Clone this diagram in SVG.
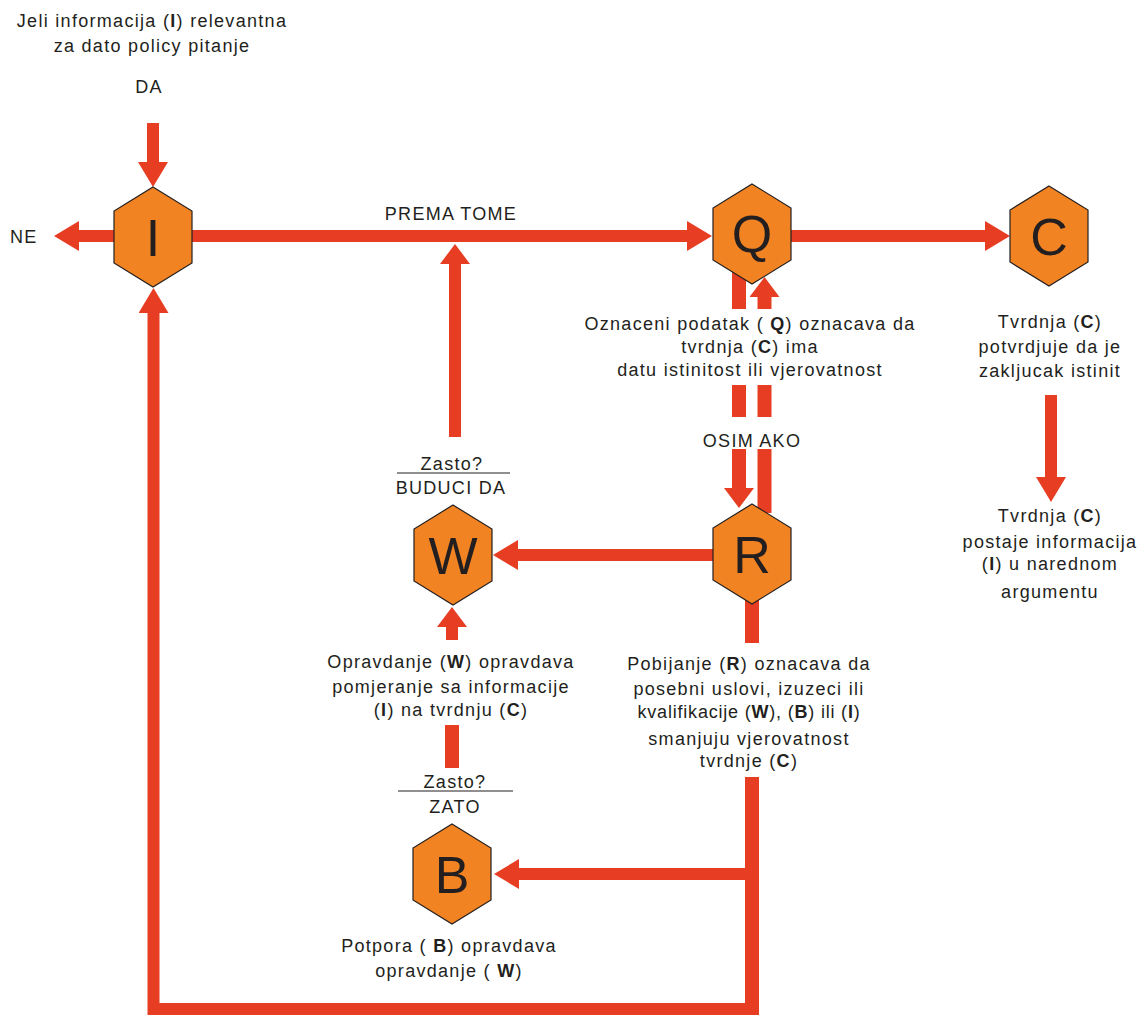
<svg xmlns="http://www.w3.org/2000/svg" width="1144" height="1016" viewBox="0 0 1144 1016">
<style>
.hex{fill:#F28322;stroke:#231f20;stroke-width:1.2}
.hl{font-family:"Liberation Sans",Arial,sans-serif;font-size:52px;fill:#231f20;text-anchor:middle}
.t{font-family:"Liberation Sans",Arial,sans-serif;font-size:18px;fill:#231f20;text-anchor:middle;letter-spacing:1.3px}
.b{font-weight:bold}
.c{fill:none;stroke:#E73E23;stroke-width:12;stroke-linejoin:miter}
.w{stroke-width:14}
.ah{fill:#E73E23}
.rule{stroke:#231f20;stroke-width:1.2}
</style>
<defs>
<polygon id="hex" points="0,-50 39,-26 39,26 0,50 -39,26 -39,-26"/>
<marker id="arr" viewBox="0 0 25 30" markerWidth="25" markerHeight="30" refX="1" refY="15" orient="auto" markerUnits="userSpaceOnUse"><path class="ah" d="M0,0 L25,15 L0,30 Z"/></marker>
<marker id="arrs" viewBox="0 0 20 30" markerWidth="20" markerHeight="30" refX="1" refY="15" orient="auto" markerUnits="userSpaceOnUse"><path class="ah" d="M0,0 L20,15 L0,30 Z"/></marker>
</defs>
<g id="connectors">
<path class="c" d="M153,123 V163" marker-end="url(#arr)"/>
<path class="c" d="M114,236 H78" marker-end="url(#arr)"/>
<path class="c" d="M192,236 H688" marker-end="url(#arr)"/>
<path class="c" d="M791,236 H986" marker-end="url(#arr)"/>
<path class="c" d="M455,437 V263" marker-end="url(#arrs)"/>
<path class="c" d="M1051,395 V478" marker-end="url(#arr)"/>
<path class="c w" d="M739,270 V309 M739,385 V417"/>
<path class="c w" d="M739,449 V489" marker-end="url(#arrs)"/>
<path class="c w" d="M764.5,513 V449 M764.5,417 V385"/>
<path class="c w" d="M764.5,309 V296" marker-end="url(#arrs)"/>
<path class="c" d="M713,555 H517" marker-end="url(#arr)"/>
<path class="c" d="M452,640 V626" marker-end="url(#arrs)"/>
<path class="c w" d="M452,725 V768"/>
<path class="c w" d="M752,600 V643"/>
<path class="c" d="M752,874 H518" marker-end="url(#arr)"/>
<path class="c w" d="M752,777 V1003"/>
<path class="c" d="M759,1009 H153.5 V312" marker-end="url(#arr)"/>
</g>
<g id="node-I"><use href="#hex" class="hex" x="153" y="237"/><text class="hl" x="153" y="256">I</text></g>
<g id="node-Q"><use href="#hex" class="hex" x="752" y="234"/><text class="hl" x="752" y="252">Q</text></g>
<g id="node-C"><use href="#hex" class="hex" x="1049" y="236"/><text class="hl" x="1049" y="255">C</text></g>
<g id="node-W"><use href="#hex" class="hex" x="453" y="555"/><text class="hl" x="453" y="574">W</text></g>
<g id="node-R"><use href="#hex" class="hex" x="752" y="554"/><text class="hl" x="752" y="573">R</text></g>
<g id="node-B"><use href="#hex" class="hex" x="452" y="874"/><text class="hl" x="452" y="893">B</text></g>
<g id="labels">
<text class="t" x="152" y="27">Jeli informacija (<tspan class="b">I</tspan>) relevantna</text>
<text class="t" x="152" y="52">za dato policy pitanje</text>
<text class="t" x="149" y="93">DA</text>
<text class="t" x="10" y="243" style="text-anchor:start">NE</text>
<text class="t" x="451" y="220">PREMA TOME</text>
<text class="t" x="750" y="330">Oznaceni podatak ( <tspan class="b">Q</tspan>) oznacava da</text>
<text class="t" x="750" y="353">tvrdnja (<tspan class="b">C</tspan>) ima</text>
<text class="t" x="750" y="376">datu istinitost ili vjerovatnost</text>
<text class="t" x="752" y="447">OSIM AKO</text>
<text class="t" x="1050" y="328">Tvrdnja (<tspan class="b">C</tspan>)</text>
<text class="t" x="1050" y="353">potvrdjuje da je</text>
<text class="t" x="1050" y="377">zakljucak istinit</text>
<text class="t" x="1050" y="522">Tvrdnja (<tspan class="b">C</tspan>)</text>
<text class="t" x="1050" y="548">postaje informacija</text>
<text class="t" x="1050" y="570">(<tspan class="b">I</tspan>) u narednom</text>
<text class="t" x="1050" y="598">argumentu</text>
<text class="t" x="452" y="470">Zasto?</text>
<line class="rule" x1="397" y1="473" x2="510" y2="473"/>
<text class="t" x="451" y="494">BUDUCI DA</text>
<text class="t" x="451" y="668">Opravdanje (<tspan class="b">W</tspan>) opravdava</text>
<text class="t" x="451" y="693">pomjeranje sa informacije</text>
<text class="t" x="451" y="716">(<tspan class="b">I</tspan>) na tvrdnju (<tspan class="b">C</tspan>)</text>
<text class="t" x="455" y="788">Zasto?</text>
<line class="rule" x1="398" y1="791" x2="513" y2="791"/>
<text class="t" x="455" y="813">ZATO</text>
<text class="t" x="749" y="670">Pobijanje  (<tspan class="b">R</tspan>) oznacava da</text>
<text class="t" x="749" y="695">posebni uslovi, izuzeci ili</text>
<text class="t" x="749" y="718" style="letter-spacing:0.8px">kvalifikacije (<tspan class="b">W</tspan>), (<tspan class="b">B</tspan>) ili (<tspan class="b">I</tspan>)</text>
<text class="t" x="749" y="745">smanjuju vjerovatnost</text>
<text class="t" x="749" y="767">tvrdnje (<tspan class="b">C</tspan>)</text>
<text class="t" x="449" y="952">Potpora ( <tspan class="b">B</tspan>) opravdava</text>
<text class="t" x="449" y="977">opravdanje ( <tspan class="b">W</tspan>)</text>
</g>
</svg>
